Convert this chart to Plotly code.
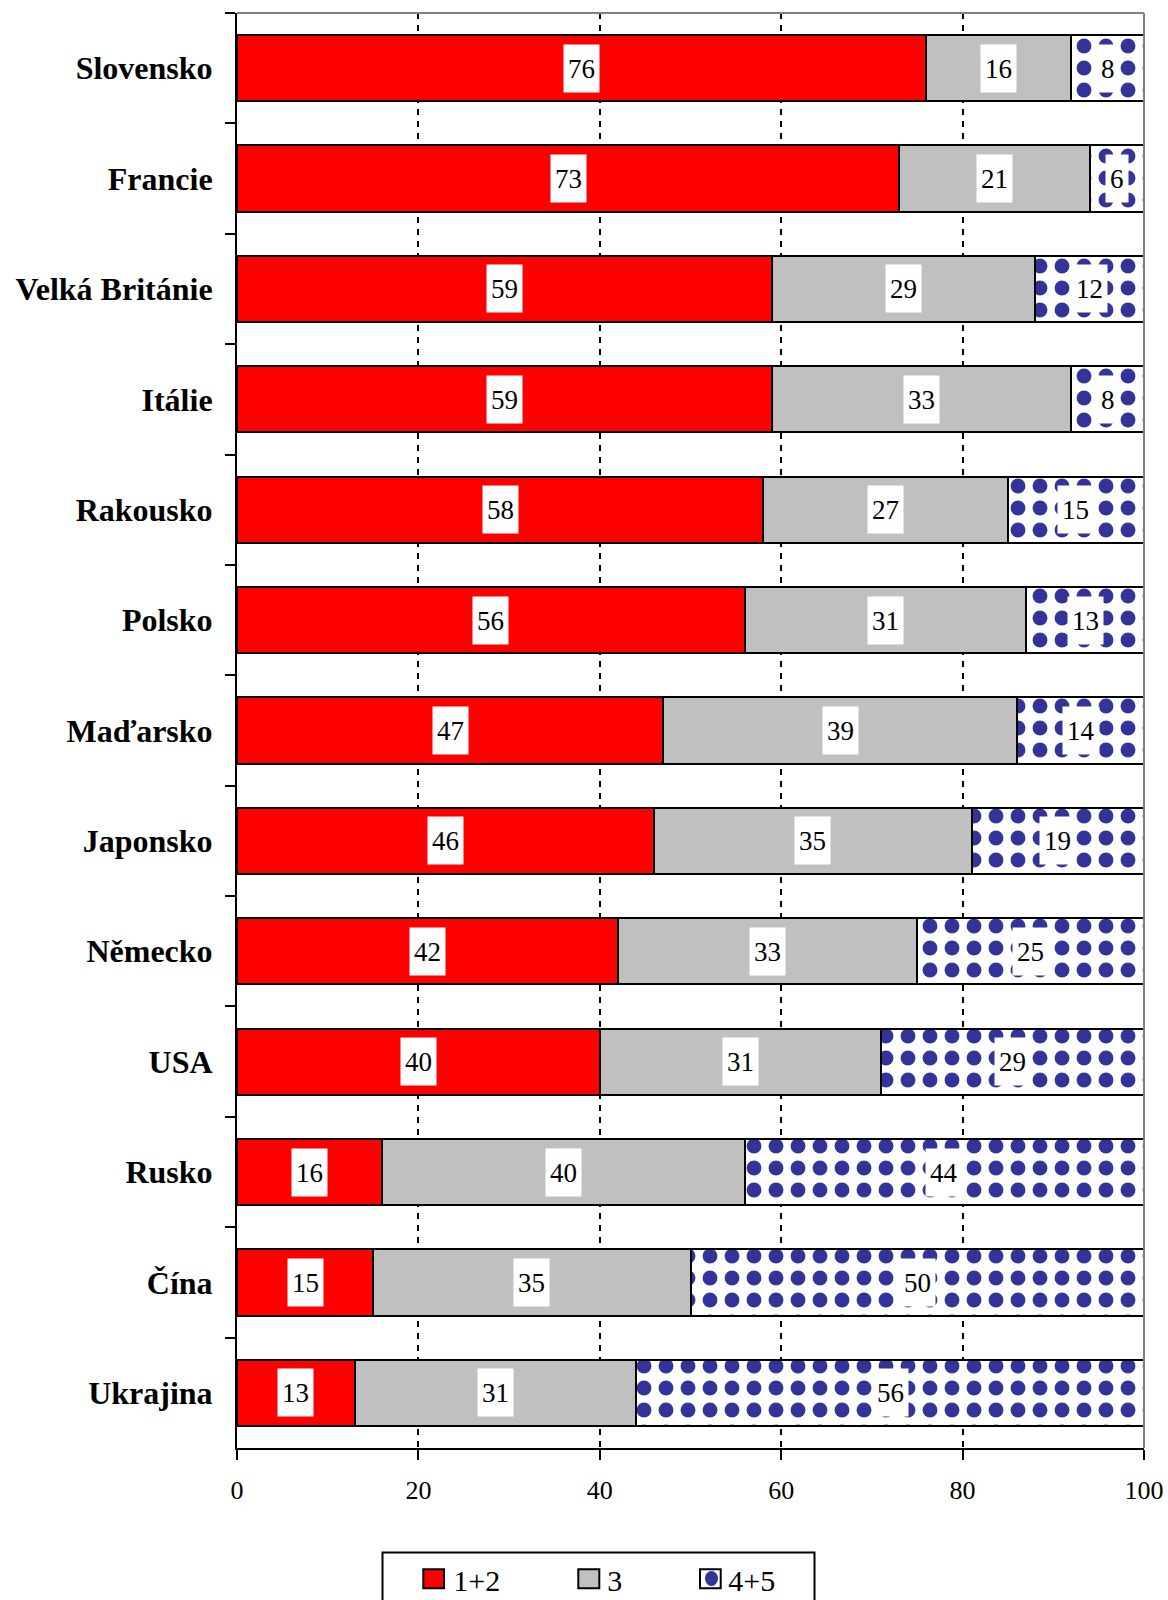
import plotly.graph_objects as go

categories = ["Slovensko", "Francie", "Velká Británie", "Itálie", "Rakousko", "Polsko",
              "Maďarsko", "Japonsko", "Německo", "USA", "Rusko", "Čína", "Ukrajina"]
v12 = [76, 73, 59, 59, 58, 56, 47, 46, 42, 40, 16, 15, 13]
v3 = [16, 21, 29, 33, 27, 31, 39, 35, 33, 31, 40, 35, 31]
v45 = [8, 6, 12, 8, 15, 13, 14, 19, 25, 29, 44, 50, 56]
series_names = ["1+2", "3", "4+5"]
series_colors = ["#ff0000", "#c0c0c0", "white"]
x_ticks = [0, 20, 40, 60, 80, 100]

FONT = "Liberation Serif"
BLUE = "#333399"

# figure geometry (body margin removed by post_script)
W, H = 1168, 1600
ML, MR, MT, MB = 237, 24, 13, 152
PW, PH = W - ML - MR, H - MT - MB


def pxx(px):
    return (px - ML) / PW


def pxy(py):
    return (H - MB - py) / PH


fig = go.Figure()
fig.add_bar(y=categories, x=v12, orientation="h", name=series_names[0], showlegend=False,
            marker=dict(color=series_colors[0], line=dict(color="black", width=2)))
fig.add_bar(y=categories, x=v3, orientation="h", name=series_names[1], showlegend=False,
            marker=dict(color=series_colors[1], line=dict(color="black", width=2)))
fig.add_bar(y=categories, x=v45, orientation="h", name=series_names[2], showlegend=False,
            marker=dict(color="white", line=dict(color="black", width=2),
                        pattern=dict(shape=".", fgcolor=BLUE, bgcolor="white",
                                     fgopacity=1, size=22, solidity=0.36)))

for c, a, b, d in zip(categories, v12, v3, v45):
    for start, val in ((0, a), (a, b), (a + b, d)):
        fig.add_annotation(x=start + val / 2, y=c, text=str(val), showarrow=False,
                           bgcolor="white", borderpad=4, height=39,
                           font=dict(family=FONT, size=27, color="black"))

# legend: one legend per entry for exact placement; symbols drawn as shapes
legend_text_x = [453.3, 607.3, 728.3]
legend_box_x = [(423.3, 444.0), (578.3, 599.3), (700.0, 720.7)]
legend_box_y = (1569.3, 1588.3)
legend_mid_y = 1579
for i, (nm, col) in enumerate(zip(series_names, series_colors)):
    lname = "legend" if i == 0 else f"legend{i+1}"
    fig.add_scatter(x=[None], y=[None], mode="markers", name=nm, legend=lname,
                    marker=dict(symbol="square", size=1, color="rgba(0,0,0,0)",
                                line=dict(width=0)))
    fig.update_layout({lname: dict(x=pxx(legend_text_x[i] - 40), xanchor="left",
                                   y=pxy(legend_mid_y), yanchor="middle",
                                   bgcolor="rgba(0,0,0,0)", borderwidth=0,
                                   font=dict(family=FONT, size=30, color="black"),
                                   itemsizing="trace")})
    x0, x1 = legend_box_x[i]
    fig.add_shape(type="rect", xref="paper", yref="paper", layer="above",
                  x0=pxx(x0), x1=pxx(x1), y0=pxy(legend_box_y[1]), y1=pxy(legend_box_y[0]),
                  fillcolor=col, line=dict(color="black", width=2))

# blue blob inside the 4+5 legend square
fig.add_shape(type="circle", xref="paper", yref="paper", layer="above",
              x0=pxx(705), x1=pxx(718), y0=pxy(1586), y1=pxy(1571),
              fillcolor=BLUE, line=dict(width=0))
# legend frame
fig.add_shape(type="rect", xref="paper", yref="paper", layer="above",
              x0=pxx(382.5), x1=pxx(814.5), y0=pxy(1640), y1=pxy(1552.5),
              line=dict(color="black", width=2), fillcolor="rgba(0,0,0,0)")

# top and right plot-area border (gray)
fig.add_shape(type="line", xref="paper", yref="paper", x0=0, x1=1, y0=1, y1=1,
              line=dict(color="#808080", width=2))
fig.add_shape(type="line", xref="paper", yref="paper", x0=1, x1=1, y0=0, y1=1,
              line=dict(color="#808080", width=2))

fig.update_layout(
    barmode="stack", bargap=0.40,
    width=W, height=H,
    margin=dict(l=ML, r=MR, t=MT, b=MB, autoexpand=False),
    paper_bgcolor="white", plot_bgcolor="white",
    font=dict(family=FONT, size=26, color="black"),
    showlegend=True,
)
fig.update_xaxes(range=[0, 100], tickvals=x_ticks, ticks="outside", ticklen=10,
                 tickwidth=2, tickcolor="black", showline=True, linecolor="black",
                 linewidth=2, showgrid=True, gridcolor="black", gridwidth=2,
                 griddash="6px,6px", zeroline=False, ticklabelstandoff=8,
                 ticklabeloverflow="allow",
                 tickfont=dict(family=FONT, size=26))
fig.update_yaxes(categoryorder="array", categoryarray=categories, autorange="reversed",
                 tickson="boundaries", ticks="outside", ticklen=10, tickwidth=2,
                 tickcolor="black", showline=True, linecolor="black", linewidth=2,
                 showgrid=False, ticklabelstandoff=16,
                 tickfont=dict(family=FONT, size=32, weight="bold"))

fig.write_html("out.html",
               config={"displayModeBar": False},
               post_script="document.body.style.margin='0';"
                           "document.documentElement.style.overflow='hidden';")
